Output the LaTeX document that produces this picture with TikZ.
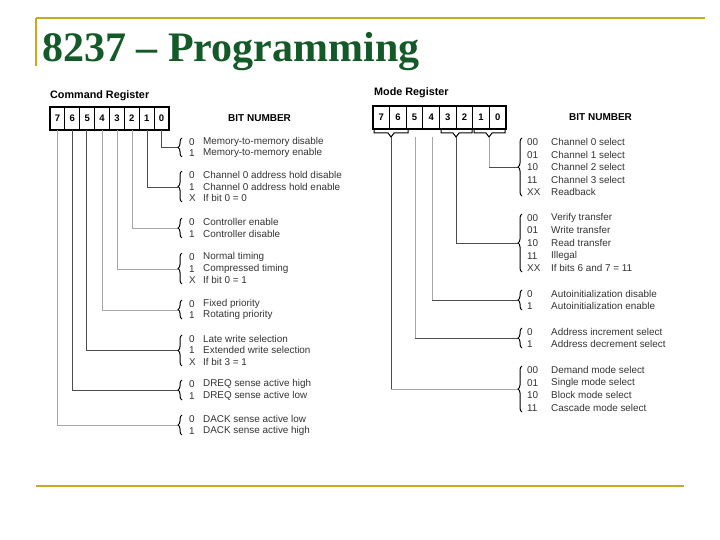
\documentclass[tikz,border=0pt]{standalone}
\usepackage{fontspec}
\setmainfont{Liberation Serif}
\setsansfont{Liberation Sans}
\usetikzlibrary{decorations.pathreplacing}
\definecolor{gold}{RGB}{200,170,30}
\definecolor{ttl}{RGB}{20,90,40}
\begin{document}
\begin{tikzpicture}[x=1pt,y=-1pt,
  lbl/.style={font=\sffamily\fontsize{9.9}{10}\selectfont,text=black!80,anchor=west,inner sep=0},
  hdr/.style={font=\sffamily\bfseries\fontsize{10}{11}\selectfont,anchor=west,inner sep=0},
  bitn/.style={font=\sffamily\bfseries\fontsize{9.5}{10}\selectfont},
  leg/.style={black!70,line width=0.6pt},
  grl/.style={black!35,line width=0.6pt},
  brc/.style={decorate,decoration={brace,amplitude=4pt},line width=1pt}]
\useasboundingbox (0,0) rectangle (720,540);
% frame
\draw[gold,line width=2pt] (36,18) -- (705,18);
\draw[gold,line width=2pt] (36,18) -- (36,66);
\draw[gold,line width=2pt] (36,486) -- (684,486);
\node[anchor=west,inner sep=0,font=\bfseries\fontsize{42}{44}\selectfont,text=ttl] (title) at (42,52) {8237 – Programming};
% Command register
\node[hdr,font=\sffamily\bfseries\fontsize{10.8}{11}\selectfont] (ch) at (50,96) {Command Register};
\node[hdr] (cb) at (228,118) {BIT NUMBER};
\draw[line width=1.8pt] (50,107) rectangle (169,130);
\foreach \i/\b in {0/7,1/6,2/5,3/4,4/3,5/2,6/1,7/0}{
  \pgfmathsetmacro\xx{50+\i*14.875}
  \node[bitn] (c\b) at (\xx+7.4,118) {\b};
  \ifnum\i>0 \draw[line width=1pt] (\xx,107) -- (\xx,130); \fi
}
% legs command
\foreach \b/\x/\y/\st in {0/161/147/leg,1/147/187/leg,2/132/228/grl,3/117/269/grl,4/102/310/grl,5/86/350/leg,6/72/390/leg,7/57/425/grl}{
  \coordinate (cl\b) at (\x,130);
  \coordinate (cb\b) at (178,\y);
  \draw[\st] (cl\b) |- (cb\b);
}
\newcommand\cgrp[2]{\draw[brc] (182,#2+4) -- (182,#1-4);}
\cgrp{142}{153}
\cgrp{175}{198}
\cgrp{222}{234}
\cgrp{257}{280}
\cgrp{304}{315}
\cgrp{339}{362}
\cgrp{384}{396}
\cgrp{419}{431}
\foreach \y/\c/\t [count=\k] in {142/0/Memory-to-memory disable,153/1/Memory-to-memory enable,
  175/0/Channel 0 address hold disable,187/1/Channel 0 address hold enable,198/X/If bit 0 = 0,
  222/0/Controller enable,234/1/Controller disable,
  257/0/Normal timing,269/1/Compressed timing,280/X/If bit 0 = 1,
  304/0/Fixed priority,315/1/Rotating priority,
  339/0/Late write selection,350/1/Extended write selection,362/X/If bit 3 = 1,
  384/0/DREQ sense active high,396/1/DREQ sense active low,
  419/0/DACK sense active low,431/1/DACK sense active high}{
  \node[lbl] (cc\k) at (189,\y) {\c};
  \node[lbl] (ct\k) at (203,\y) {\t};
}
% Mode register
\node[hdr,font=\sffamily\bfseries\fontsize{10.8}{11}\selectfont] (mh) at (374,93) {Mode Register};
\node[hdr] (mb) at (569,117) {BIT NUMBER};
\draw[line width=1.8pt] (373,106) rectangle (506,129);
\foreach \i/\b in {0/7,1/6,2/5,3/4,4/3,5/2,6/1,7/0}{
  \pgfmathsetmacro\xx{373+\i*16.625}
  \node[bitn] (m\b) at (\xx+8.3,117) {\b};
  \ifnum\i>0 \draw[line width=1pt] (\xx,106) -- (\xx,129); \fi
}
\foreach \a/\m/\e in {374/391/408,441/456/472,474/489/505}{
  \draw[line width=1pt] (\a,129) -- (\a,133) -- (\m-3,133) -- (\m,137) -- (\m+3,133) -- (\e,133) -- (\e,129);
}
\foreach \b/\x/\y/\st in {0/489/167/grl,2/456/243/leg,4/432/300/grl,5/415/338/grl,6/391/389/leg}{
  \coordinate (ml\b) at (\x,137);
  \coordinate (mbr\b) at (518,\y);
  \draw[\st] (ml\b) |- (mbr\b);
}
\draw[leg] (489,167) -- (518,167);
\draw[leg] (432,300) -- (518,300);
\draw[leg] (415,338) -- (518,338);
\draw[grl] (391,389) -- (518,389);
\newcommand\mgrp[2]{\draw[brc] (522,#2+4) -- (522,#1-4);}
\mgrp{142}{192}
\mgrp{218}{268}
\mgrp{294}{306}
\mgrp{332}{344}
\mgrp{370}{408}
\foreach \y/\c/\t [count=\k] in {142/00/Channel 0 select,155/01/Channel 1 select,167/10/Channel 2 select,180/11/Channel 3 select,192/XX/Readback,
  218/00/Verify transfer,230/01/Write transfer,243/10/Read transfer,256/11/Illegal,268/XX/If bits 6 and 7 = 11,
  294/0/Autoinitialization disable,306/1/Autoinitialization enable,
  332/0/Address increment select,344/1/Address decrement select,
  370/00/Demand mode select,383/01/Single mode select,395/10/Block mode select,408/11/Cascade mode select}{
  \node[lbl] (mc\k) at (527,\y) {\c};
  \node[lbl] (mt\k) at (551,\y) {\t};
}
\end{tikzpicture}
\end{document}
